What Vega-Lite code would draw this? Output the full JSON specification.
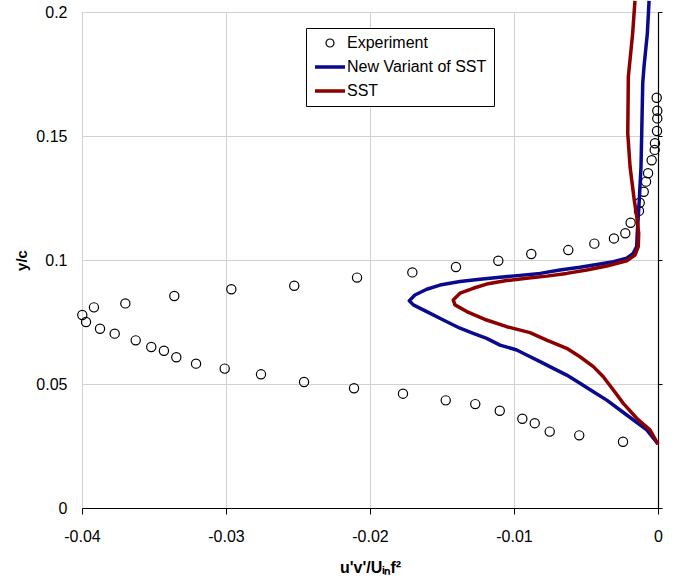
{
  "$schema": "https://vega.github.io/schema/vega-lite/v6.json",
  "width": 576,
  "height": 496,
  "autosize": {"type": "none"},
  "padding": {"left": 82, "top": 12, "right": 20, "bottom": 75},
  "background": "white",
  "config": {
    "font": "Liberation Sans",
    "view": {"stroke": "#8c8c8c", "strokeWidth": 1},
    "axis": {"labelColor": "black", "titleColor": "black", "labelFont": "Liberation Sans", "titleFont": "Liberation Sans"}
  },
  "data": {
    "values": [
      {"s": "Experiment", "x": -0.00243, "y": 0.0267},
      {"s": "Experiment", "x": -0.00547, "y": 0.0293},
      {"s": "Experiment", "x": -0.00752, "y": 0.0308},
      {"s": "Experiment", "x": -0.00856, "y": 0.0342},
      {"s": "Experiment", "x": -0.00942, "y": 0.0360},
      {"s": "Experiment", "x": -0.01099, "y": 0.0392},
      {"s": "Experiment", "x": -0.01269, "y": 0.0419},
      {"s": "Experiment", "x": -0.01474, "y": 0.0434},
      {"s": "Experiment", "x": -0.01771, "y": 0.0461},
      {"s": "Experiment", "x": -0.02111, "y": 0.0483},
      {"s": "Experiment", "x": -0.02458, "y": 0.0508},
      {"s": "Experiment", "x": -0.02757, "y": 0.0539},
      {"s": "Experiment", "x": -0.03009, "y": 0.0562},
      {"s": "Experiment", "x": -0.03208, "y": 0.0582},
      {"s": "Experiment", "x": -0.03345, "y": 0.0608},
      {"s": "Experiment", "x": -0.03431, "y": 0.0634},
      {"s": "Experiment", "x": -0.03519, "y": 0.0649},
      {"s": "Experiment", "x": -0.03627, "y": 0.0676},
      {"s": "Experiment", "x": -0.03773, "y": 0.0703},
      {"s": "Experiment", "x": -0.03875, "y": 0.0723},
      {"s": "Experiment", "x": -0.03972, "y": 0.0750},
      {"s": "Experiment", "x": -0.03998, "y": 0.0778},
      {"s": "Experiment", "x": -0.03917, "y": 0.0809},
      {"s": "Experiment", "x": -0.03699, "y": 0.0825},
      {"s": "Experiment", "x": -0.03359, "y": 0.0855},
      {"s": "Experiment", "x": -0.02963, "y": 0.0882},
      {"s": "Experiment", "x": -0.02526, "y": 0.0896},
      {"s": "Experiment", "x": -0.0209, "y": 0.0929},
      {"s": "Experiment", "x": -0.01706, "y": 0.0950},
      {"s": "Experiment", "x": -0.01403, "y": 0.0972},
      {"s": "Experiment", "x": -0.01109, "y": 0.0997},
      {"s": "Experiment", "x": -0.0088, "y": 0.1024},
      {"s": "Experiment", "x": -0.00623, "y": 0.1040},
      {"s": "Experiment", "x": -0.00442, "y": 0.1066},
      {"s": "Experiment", "x": -0.00306, "y": 0.1087},
      {"s": "Experiment", "x": -0.00227, "y": 0.1108},
      {"s": "Experiment", "x": -0.0019, "y": 0.1150},
      {"s": "Experiment", "x": -0.00132, "y": 0.1198},
      {"s": "Experiment", "x": -0.00127, "y": 0.1231},
      {"s": "Experiment", "x": -0.00099, "y": 0.1275},
      {"s": "Experiment", "x": -0.00083, "y": 0.1316},
      {"s": "Experiment", "x": -0.00069, "y": 0.1350},
      {"s": "Experiment", "x": -0.00044, "y": 0.1402},
      {"s": "Experiment", "x": -0.00023, "y": 0.1444},
      {"s": "Experiment", "x": -0.00021, "y": 0.1471},
      {"s": "Experiment", "x": -0.00007, "y": 0.1520},
      {"s": "Experiment", "x": -0.00005, "y": 0.1571},
      {"s": "Experiment", "x": -0.00005, "y": 0.1602},
      {"s": "Experiment", "x": -0.00009, "y": 0.1654},

      {"s": "New Variant of SST", "x": 0, "y": 0.0258},
      {"s": "New Variant of SST", "x": -0.00078, "y": 0.0315},
      {"s": "New Variant of SST", "x": -0.00217, "y": 0.0375},
      {"s": "New Variant of SST", "x": -0.00356, "y": 0.0435},
      {"s": "New Variant of SST", "x": -0.00449, "y": 0.0469},
      {"s": "New Variant of SST", "x": -0.00542, "y": 0.0503},
      {"s": "New Variant of SST", "x": -0.00634, "y": 0.0536},
      {"s": "New Variant of SST", "x": -0.00727, "y": 0.0563},
      {"s": "New Variant of SST", "x": -0.00819, "y": 0.0590},
      {"s": "New Variant of SST", "x": -0.00912, "y": 0.0617},
      {"s": "New Variant of SST", "x": -0.00981, "y": 0.0637},
      {"s": "New Variant of SST", "x": -0.01097, "y": 0.0657},
      {"s": "New Variant of SST", "x": -0.0119, "y": 0.0684},
      {"s": "New Variant of SST", "x": -0.01283, "y": 0.0704},
      {"s": "New Variant of SST", "x": -0.01375, "y": 0.0725},
      {"s": "New Variant of SST", "x": -0.01491, "y": 0.0758},
      {"s": "New Variant of SST", "x": -0.01606, "y": 0.0792},
      {"s": "New Variant of SST", "x": -0.01699, "y": 0.0819},
      {"s": "New Variant of SST", "x": -0.01727, "y": 0.0836},
      {"s": "New Variant of SST", "x": -0.01688, "y": 0.0859},
      {"s": "New Variant of SST", "x": -0.01606, "y": 0.0882},
      {"s": "New Variant of SST", "x": -0.01514, "y": 0.0899},
      {"s": "New Variant of SST", "x": -0.01375, "y": 0.0913},
      {"s": "New Variant of SST", "x": -0.01236, "y": 0.0922},
      {"s": "New Variant of SST", "x": -0.01097, "y": 0.0930},
      {"s": "New Variant of SST", "x": -0.00958, "y": 0.0938},
      {"s": "New Variant of SST", "x": -0.00819, "y": 0.0946},
      {"s": "New Variant of SST", "x": -0.00681, "y": 0.0960},
      {"s": "New Variant of SST", "x": -0.00542, "y": 0.0971},
      {"s": "New Variant of SST", "x": -0.00403, "y": 0.0984},
      {"s": "New Variant of SST", "x": -0.0031, "y": 0.0993},
      {"s": "New Variant of SST", "x": -0.00217, "y": 0.1007},
      {"s": "New Variant of SST", "x": -0.00172, "y": 0.1027},
      {"s": "New Variant of SST", "x": -0.00148, "y": 0.1054},
      {"s": "New Variant of SST", "x": -0.00144, "y": 0.1108},
      {"s": "New Variant of SST", "x": -0.0013, "y": 0.1242},
      {"s": "New Variant of SST", "x": -0.00118, "y": 0.1376},
      {"s": "New Variant of SST", "x": -0.00113, "y": 0.1511},
      {"s": "New Variant of SST", "x": -0.00106, "y": 0.1713},
      {"s": "New Variant of SST", "x": -0.00097, "y": 0.1781},
      {"s": "New Variant of SST", "x": -0.00074, "y": 0.1914},
      {"s": "New Variant of SST", "x": -0.00062, "y": 0.2045},

      {"s": "SST", "x": 0, "y": 0.0258},
      {"s": "SST", "x": -0.00056, "y": 0.0315},
      {"s": "SST", "x": -0.00148, "y": 0.0362},
      {"s": "SST", "x": -0.00241, "y": 0.0422},
      {"s": "SST", "x": -0.0031, "y": 0.0476},
      {"s": "SST", "x": -0.0038, "y": 0.0529},
      {"s": "SST", "x": -0.00449, "y": 0.0570},
      {"s": "SST", "x": -0.00542, "y": 0.0610},
      {"s": "SST", "x": -0.00634, "y": 0.0644},
      {"s": "SST", "x": -0.00773, "y": 0.0677},
      {"s": "SST", "x": -0.00889, "y": 0.0707},
      {"s": "SST", "x": -0.01051, "y": 0.0731},
      {"s": "SST", "x": -0.0119, "y": 0.0758},
      {"s": "SST", "x": -0.01328, "y": 0.0792},
      {"s": "SST", "x": -0.0141, "y": 0.0819},
      {"s": "SST", "x": -0.01422, "y": 0.0839},
      {"s": "SST", "x": -0.01375, "y": 0.0866},
      {"s": "SST", "x": -0.01283, "y": 0.0886},
      {"s": "SST", "x": -0.0119, "y": 0.0903},
      {"s": "SST", "x": -0.01051, "y": 0.0917},
      {"s": "SST", "x": -0.00912, "y": 0.0926},
      {"s": "SST", "x": -0.00773, "y": 0.0935},
      {"s": "SST", "x": -0.00634, "y": 0.0946},
      {"s": "SST", "x": -0.00495, "y": 0.0960},
      {"s": "SST", "x": -0.00356, "y": 0.0976},
      {"s": "SST", "x": -0.00217, "y": 0.0997},
      {"s": "SST", "x": -0.0016, "y": 0.1020},
      {"s": "SST", "x": -0.00137, "y": 0.1054},
      {"s": "SST", "x": -0.00134, "y": 0.1108},
      {"s": "SST", "x": -0.00148, "y": 0.1175},
      {"s": "SST", "x": -0.00165, "y": 0.1242},
      {"s": "SST", "x": -0.00194, "y": 0.1376},
      {"s": "SST", "x": -0.0021, "y": 0.1511},
      {"s": "SST", "x": -0.00206, "y": 0.1739},
      {"s": "SST", "x": -0.00176, "y": 0.1914},
      {"s": "SST", "x": -0.0016, "y": 0.2045}
    ]
  },
  "layer": [
    {
      "transform": [{"filter": "datum.s === 'Experiment'"}],
      "mark": {"type": "point", "filled": false, "opacity": 1, "clip": false, "size": 85, "strokeWidth": 1.2},
      "encoding": {
        "x": {
          "field": "x", "type": "quantitative",
          "scale": {"domain": [-0.04, 0], "nice": false, "zero": false},
          "axis": {
            "values": [-0.04, -0.03, -0.02, -0.01, 0],
            "labelExpr": "replace(format(datum.value, '~g'), '\u2212', '-')",
            "grid": true, "gridColor": "#d2d2d2", "gridWidth": 1,
            "domain": true, "domainColor": "black", "domainWidth": 1.2,
            "ticks": true, "tickColor": "black", "tickSize": 6, "tickWidth": 1,
            "labelFontSize": 16, "labelPadding": 14, "labelFlush": false,
            "title": "u'v'/Uᵢₙf²", "titleFontSize": 16, "titleFontWeight": "bold", "titlePadding": 15
          }
        },
        "y": {
          "field": "y", "type": "quantitative",
          "scale": {"domain": [0, 0.2], "nice": false, "zero": false},
          "axis": {
            "orient": "left",
            "values": [0, 0.05, 0.1, 0.15, 0.2],
            "format": "~g",
            "grid": true, "gridColor": "#d2d2d2", "gridWidth": 1,
            "domain": false, "ticks": false,
            "labelFontSize": 16, "labelPadding": 15, "labelFlush": false,
            "title": "y/c", "titleFontSize": 15, "titleFontWeight": "bold", "titlePadding": 6
          }
        },
        "color": {
          "field": "s", "type": "nominal",
          "scale": {"domain": ["Experiment", "New Variant of SST", "SST"], "range": ["black", "#0a0a8f", "#8c0000"]},
          "legend": {
            "orient": "none", "legendX": 224, "legendY": 16, "title": null,
            "padding": 7, "strokeColor": "black", "fillColor": "white", "cornerRadius": 0,
            "labelFontSize": 16, "labelColor": "black", "labelFont": "Liberation Sans",
            "rowPadding": 8, "labelOffset": 9, "symbolOffset": 9, "symbolSize": 64, "symbolOpacity": 1,
            "symbolStrokeWidth": 1.2
          }
        },
        "shape": {
          "field": "s", "type": "nominal",
          "scale": {"domain": ["Experiment", "New Variant of SST", "SST"], "range": ["circle", "M-3.75,-0.3H3.75M-3.75,0H3.75M-3.75,0.3H3.75", "M-3.75,-0.3H3.75M-3.75,0H3.75M-3.75,0.3H3.75"]},
          "legend": {"title": null}
        }
      }
    },
    {
      "transform": [{"filter": "datum.s === 'New Variant of SST'"}],
      "mark": {"type": "line", "clip": false, "strokeJoin": "round", "strokeWidth": 3.5},
      "encoding": {
        "x": {"field": "x", "type": "quantitative"},
        "y": {
          "field": "y", "type": "quantitative",
          "axis": {
            "orient": "right", "labels": false, "grid": false, "title": null,
            "values": [0, 0.05, 0.1, 0.15, 0.2],
            "domain": true, "domainColor": "black", "domainWidth": 1.2,
            "ticks": true, "tickColor": "black", "tickSize": 4
          }
        },
        "order": {"value": null},
        "color": {"field": "s", "type": "nominal"}
      }
    },
    {
      "transform": [{"filter": "datum.s === 'SST'"}],
      "mark": {"type": "line", "clip": false, "strokeJoin": "round", "strokeWidth": 3.5},
      "encoding": {
        "x": {"field": "x", "type": "quantitative"},
        "y": {"field": "y", "type": "quantitative", "axis": null},
        "order": {"value": null},
        "color": {"field": "s", "type": "nominal"}
      }
    }
  ],
  "resolve": {"axis": {"y": "independent"}}
}
